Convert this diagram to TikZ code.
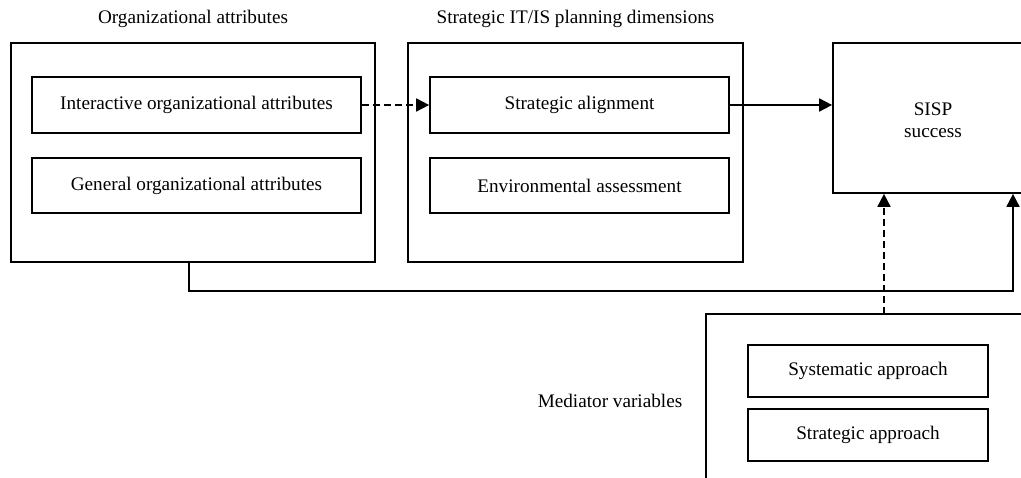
\documentclass[tikz,border=0pt]{standalone}
\usepackage{fontspec}
\setmainfont{Liberation Serif}
\usetikzlibrary{arrows.meta,calc}
\tikzset{
  lw/.style={line width=1.7pt},
  box/.style={draw, lw, inner sep=0pt, align=center, font=\fontsize{19.2}{22.5}\selectfont},
  lbl/.style={inner sep=0pt, align=center, font=\fontsize{19.2}{22.5}\selectfont},
  arr/.style={lw, -{Triangle[length=13pt,width=13pt]}},
  dsh/.style={dash pattern=on 7pt off 4pt}
}
\begin{document}
\begin{tikzpicture}[x=1pt,y=-1pt]
\clip (0,0) rectangle (1021,478);
% left group
\node[lbl] (t1) at (193,19) {Organizational attributes};
\node[box, minimum width=364pt, minimum height=219pt] (b1) at (193,152.5) {};
\node[box, minimum width=329pt, minimum height=56pt] (b1a) at (196.5,105) {Interactive organizational attributes};
\node[box, minimum width=329pt, minimum height=55pt] (b1b) at (196.5,185.5) {General organizational attributes};
% middle group
\node[lbl] (t2) at (575.5,19) {Strategic IT/IS planning dimensions};
\node[box, minimum width=335pt, minimum height=219pt] (b2) at (575.5,152.5) {};
\node[box, minimum width=299pt, minimum height=56pt] (b2a) at (579.5,105) {Strategic alignment};
\node[box, minimum width=299pt, minimum height=55pt] (b2b) at (579.5,185.5) {Environmental assessment};
% SISP success
\node[box, minimum width=200pt, minimum height=150pt] (sisp) at (933,118) {};
\node[lbl] (sispt) at (933,120) {SISP\\success};
% mediator
\node[box, minimum width=324pt, minimum height=178pt] (med) at (868,403) {};
\node[box, minimum width=240pt, minimum height=52pt] (m1) at (868,371) {Systematic approach};
\node[box, minimum width=240pt, minimum height=52pt] (m2) at (868,435) {Strategic approach};
\node[lbl] (t3) at (610,401) {Mediator variables};
% connectors
\draw[arr, dsh] (b1a.east) -- (b2a.west);
\draw[arr] (b2a.east) -- (b2a.east -| sisp.west);
\coordinate (c0) at (189,262);
\coordinate (c1) at (1013,291);
\draw[arr] (c0) |- (c1) -- (c1 |- sisp.south);
\coordinate (m0) at (884,314);
\draw[arr, dsh] (m0) -- (m0 |- sisp.south);
\end{tikzpicture}
\end{document}
